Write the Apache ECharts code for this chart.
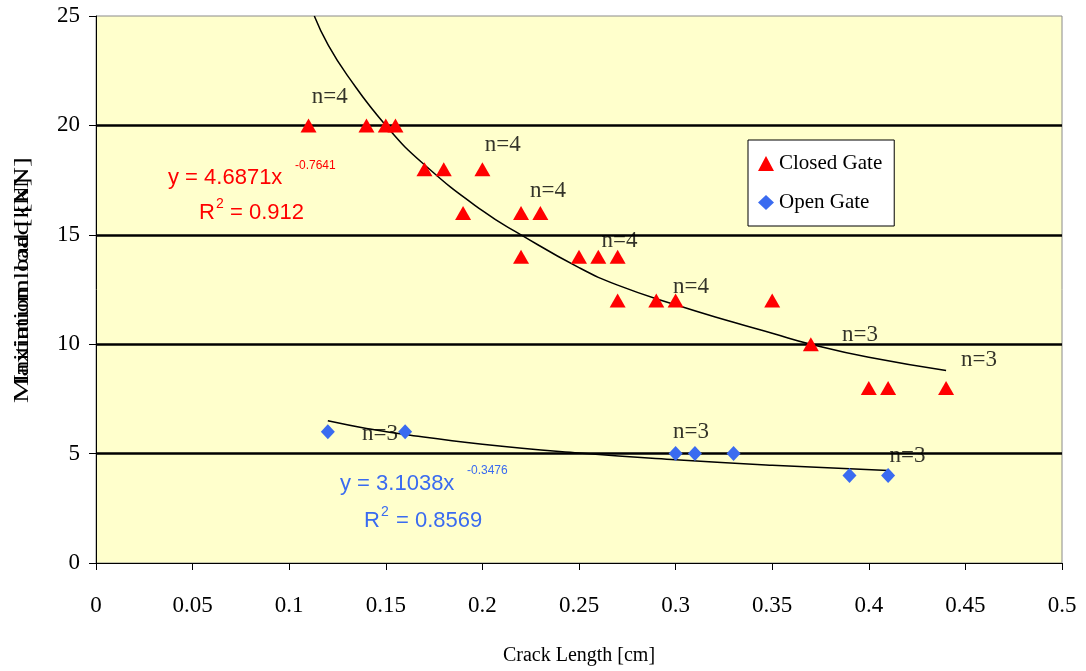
<!DOCTYPE html>
<html>
<head>
<meta charset="utf-8">
<script src="https://cdn.jsdelivr.net/npm/echarts@6/dist/echarts.min.js"></script>
<style>html,body{margin:0;padding:0;background:#fff;}#c{width:1086px;height:671px;}</style>
</head>
<body>
<div id="c"></div>
<script>
// Closed Gate measurements
const closedX = [0.11, 0.14, 0.15, 0.155, 0.17, 0.18, 0.2, 0.19, 0.22, 0.23, 0.22, 0.25, 0.26, 0.27, 0.27, 0.29, 0.30, 0.35, 0.37, 0.40, 0.41, 0.44];
const closedY = [20, 20, 20, 20, 18, 18, 18, 16, 16, 16, 14, 14, 14, 14, 12, 12, 12, 12, 10, 8, 8, 8];
// Open Gate measurements
const openX = [0.12, 0.16, 0.30, 0.31, 0.33, 0.39, 0.41];
const openY = [6, 6, 5, 5, 5, 4, 4];
// Trend lines
const closedTrendX = [0.113, 0.12, 0.13, 0.15, 0.17, 0.2, 0.22, 0.25, 0.27, 0.3, 0.33, 0.35, 0.37, 0.4, 0.44];
const closedTrendY = [25, 23.7, 22.3, 20, 18.2, 16.1, 15, 13.5, 12.7, 11.8, 11, 10.5, 10, 9.4, 8.8];
const openTrendX = [0.12, 0.14, 0.16, 0.2, 0.25, 0.3, 0.35, 0.41];
const openTrendY = [6.5, 6.15, 5.87, 5.43, 5.03, 4.72, 4.47, 4.23];
// "n=" annotations
const noteX = [0.121, 0.2105, 0.234, 0.271, 0.308, 0.3955, 0.457, 0.147, 0.308, 0.42];
const noteY = [21.3, 19.1, 17.0, 14.7, 12.6, 10.4, 9.3, 5.9, 6.0, 4.9];
const noteText = ['n=4', 'n=4', 'n=4', 'n=4', 'n=4', 'n=3', 'n=3', 'n=3', 'n=3', 'n=3'];
// Axis ticks
const xMin = 0, xMax = 0.5, xStep = 0.05;
const yMin = 0, yMax = 25, yStep = 5;

const serif = '"Liberation Serif", "Times New Roman", serif';
const sans = '"Liberation Sans", Arial, sans-serif';

const zip = (a, b) => a.map((v, i) => [v, b[i]]);

const chart = echarts.init(document.getElementById('c'), null, {renderer: 'canvas'});
chart.setOption({
  animation: false,
  backgroundColor: '#ffffff',
  grid: {left: 96, right: 24, top: 16, bottom: 108, show: true, backgroundColor: '#FFFFCC', borderColor: '#8a8a8a', borderWidth: 1},
  legend: {
    left: 748, top: 140, orient: 'vertical',
    data: ['Closed Gate', 'Open Gate'],
    backgroundColor: '#ffffff', borderColor: '#000', borderWidth: 1,
    padding: [13, 12, 13, 10], itemGap: 18, itemWidth: 16, itemHeight: 15,
    textStyle: {fontFamily: serif, fontSize: 21, color: '#000'}
  },
  xAxis: {
    type: 'value', min: xMin, max: xMax, interval: xStep,
    name: 'Crack Length [cm]', nameLocation: 'middle', nameGap: 83,
    nameTextStyle: {fontFamily: serif, fontSize: 20, color: '#000'},
    axisLine: {lineStyle: {color: '#000', width: 1}},
    axisTick: {show: true, length: 7, lineStyle: {color: '#000'}},
    axisLabel: {fontFamily: serif, fontSize: 23, color: '#000', margin: 31},
    splitLine: {show: false}
  },
  yAxis: {
    type: 'value', min: yMin, max: yMax, interval: yStep,
    axisLine: {show: true, lineStyle: {color: '#000', width: 1}},
    axisTick: {show: true, length: 7, lineStyle: {color: '#000'}},
    axisLabel: {fontFamily: serif, fontSize: 23, color: '#000', margin: 16},
    splitLine: {show: true, showMinLine: false, showMaxLine: false, lineStyle: {color: '#000', width: 2.5}}
  },
  graphic: [
    {type: 'text', x: 22, y: 280, rotation: Math.PI / 2, scaleX: 1.35, style: {text: 'Maximum load [kN]', fontFamily: serif, fontSize: 22, fill: '#000', align: 'center', verticalAlign: 'middle'}},
    {type: 'text', x: 22, y: 280, rotation: Math.PI / 2, scaleX: 1.2, style: {text: 'Initiation load [kN]', fontFamily: serif, fontSize: 22, fill: '#000', align: 'center', verticalAlign: 'middle'}},
    {type: 'text', x: 168, y: 178, style: {text: 'y = 4.6871x', fontFamily: sans, fontSize: 22, fill: '#FF0000', verticalAlign: 'middle'}},
    {type: 'text', x: 295, y: 166, style: {text: '-0.7641', fontFamily: sans, fontSize: 12, fill: '#FF0000', verticalAlign: 'middle'}},
    {type: 'text', x: 199, y: 213, style: {text: 'R', fontFamily: sans, fontSize: 22, fill: '#FF0000', verticalAlign: 'middle'}},
    {type: 'text', x: 216, y: 204, style: {text: '2', fontFamily: sans, fontSize: 14, fill: '#FF0000', verticalAlign: 'middle'}},
    {type: 'text', x: 230, y: 213, style: {text: '= 0.912', fontFamily: sans, fontSize: 22, fill: '#FF0000', verticalAlign: 'middle'}},
    {type: 'text', x: 340, y: 484, style: {text: 'y = 3.1038x', fontFamily: sans, fontSize: 22, fill: '#3A6BF0', verticalAlign: 'middle'}},
    {type: 'text', x: 467, y: 471, style: {text: '-0.3476', fontFamily: sans, fontSize: 12, fill: '#3A6BF0', verticalAlign: 'middle'}},
    {type: 'text', x: 364, y: 521, style: {text: 'R', fontFamily: sans, fontSize: 22, fill: '#3A6BF0', verticalAlign: 'middle'}},
    {type: 'text', x: 381, y: 512, style: {text: '2', fontFamily: sans, fontSize: 14, fill: '#3A6BF0', verticalAlign: 'middle'}},
    {type: 'text', x: 396, y: 521, style: {text: '= 0.8569', fontFamily: sans, fontSize: 22, fill: '#3A6BF0', verticalAlign: 'middle'}}
  ],
  series: [
    {
      name: 'closedTrend', type: 'line', data: zip(closedTrendX, closedTrendY), smooth: true,
      showSymbol: false, symbol: 'none', lineStyle: {color: '#000', width: 1.5}, z: 2, silent: true
    },
    {
      name: 'openTrend', type: 'line', data: zip(openTrendX, openTrendY), smooth: true,
      showSymbol: false, symbol: 'none', lineStyle: {color: '#000', width: 1.5}, z: 2, silent: true
    },
    {
      name: 'Closed Gate', type: 'scatter', symbol: 'triangle', symbolSize: [16, 14],
      itemStyle: {color: '#FF0000', opacity: 1}, data: zip(closedX, closedY), z: 3
    },
    {
      name: 'Open Gate', type: 'scatter', symbol: 'diamond', symbolSize: [14, 15],
      itemStyle: {color: '#3A6BF0', opacity: 1}, data: zip(openX, openY), z: 3
    },
    {
      name: 'notes', type: 'scatter', symbolSize: 0, z: 4, silent: true,
      data: noteX.map((x, i) => [x, noteY[i], noteText[i]]),
      label: {show: true, position: 'inside', formatter: p => p.data[2], fontFamily: serif, fontSize: 23, color: '#000', textBorderWidth: 0}
    }
  ]
});
</script>
</body>
</html>
